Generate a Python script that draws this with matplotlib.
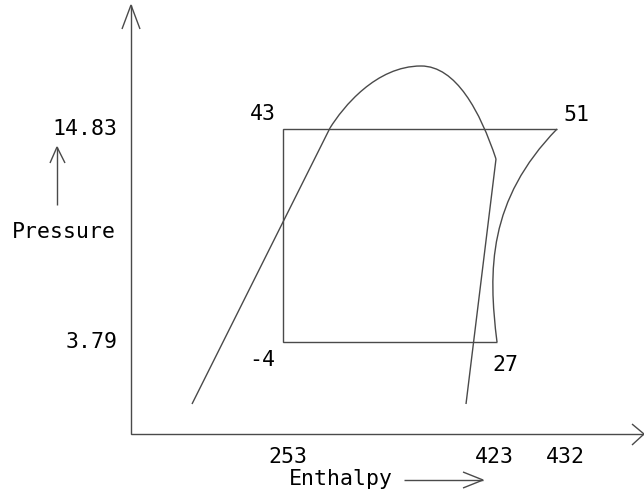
import matplotlib
matplotlib.use("Agg")
import matplotlib.pyplot as plt
from matplotlib.path import Path
from matplotlib.patches import PathPatch

# Schematic P-h diagram (diagram units: x -> right, y -> down, figure pixels)
# Saturation dome: straight liquid line, then two cubic Bezier arcs over the top
liq_x = [192, 330]
liq_y = [404, 128]
dome_left_x = [330, 343, 376, 421]      # start, control, control, end (peak)
dome_left_y = [128, 107.2, 66, 66]
dome_right_x = [421, 456, 480.2, 496]   # peak, control, control, end
dome_right_y = [66, 66, 111.6, 159]
vap_x = [496, 466]
vap_y = [159, 404]

# Refrigeration cycle
cycle_x = [557, 283, 283, 497]
cycle_y = [129, 129, 342, 342]
comp_x = [497, 488, 488, 557]           # compression path (cubic Bezier)
comp_y = [342, 270, 200, 129]

# Axes
axis_x = [131, 131, 644]
axis_y = [5, 434, 434]
yhead_x = [122, 131, 140]
yhead_y = [29, 5, 29]
xhead_x = [632, 644, 632]
xhead_y = [424, 434, 445]

# Small label arrows
p_arrow_x = [57, 57]
p_arrow_y = [205, 147]
p_head_x = [50, 57, 65]
p_head_y = [163, 147, 163]
h_arrow_x = [404, 483]
h_arrow_y = [480, 480]
h_head_x = [463, 483, 463]
h_head_y = [472, 480, 488]

# Labels
point_labels = ["43", "51", "-4", "27"]
point_lx = [263, 576, 262, 505]
point_ly = [114, 115, 360, 365]
p_ticks = ["14.83", "3.79"]
p_tick_x = [85, 92]
p_tick_y = [129, 342]
h_ticks = ["253", "423", "432"]
h_tick_x = [288, 494, 565]
h_tick_y = [457, 457, 457]

fig = plt.figure(figsize=(6.44, 4.95), dpi=100)
ax = fig.add_axes([0, 0, 1, 1])
ax.set_xlim(0, 644)
ax.set_ylim(495, 0)
ax.axis("off")

lc = "#4a4a4a"
lw = 1.0
for xs, ys in [(liq_x, liq_y), (vap_x, vap_y),
               (cycle_x, cycle_y),
               (axis_x, axis_y), (yhead_x, yhead_y), (xhead_x, xhead_y),
               (p_arrow_x, p_arrow_y), (p_head_x, p_head_y),
               (h_arrow_x, h_arrow_y), (h_head_x, h_head_y)]:
    ax.plot(xs, ys, color=lc, lw=lw, solid_joinstyle="miter", solid_capstyle="butt")

codes = [Path.MOVETO, Path.CURVE4, Path.CURVE4, Path.CURVE4]
for xs, ys in [(dome_left_x, dome_left_y), (dome_right_x, dome_right_y), (comp_x, comp_y)]:
    path = Path(list(zip(xs, ys)), codes)
    ax.add_patch(PathPatch(path, fill=False, edgecolor=lc, lw=lw))

font = dict(family="DejaVu Sans Mono", fontsize=15.5, color="black")
for t, x, y in zip(point_labels, point_lx, point_ly):
    ax.text(x, y, t, ha="center", va="center", **font)
for t, x, y in zip(p_ticks, p_tick_x, p_tick_y):
    ax.text(x, y, t, ha="center", va="center", **font)
for t, x, y in zip(h_ticks, h_tick_x, h_tick_y):
    ax.text(x, y, t, ha="center", va="center", **font)
ax.text(64, 232, "Pressure", ha="center", va="center", **font)
ax.text(341, 485, "Enthalpy", ha="center", va="baseline", **font)

fig.savefig("out.png", dpi=100)
